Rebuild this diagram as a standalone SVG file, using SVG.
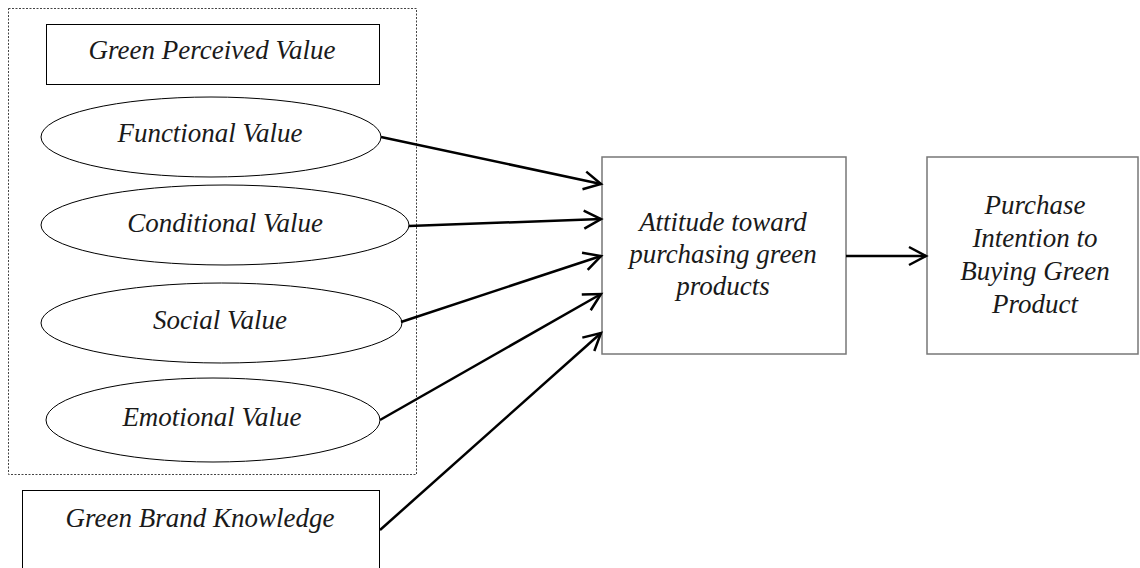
<svg xmlns="http://www.w3.org/2000/svg" width="1140" height="568" viewBox="0 0 1140 568">
  <style>
    text { font-family: "Liberation Serif", "Times New Roman", serif; font-style: italic; font-size: 27px; fill: #1a1a1a; text-anchor: middle; }
    .box { fill: #fff; stroke: #000; stroke-width: 1; }
    .gbox { fill: #fff; stroke: #777; stroke-width: 1.5; }
    .ell { fill: #fff; stroke: #000; stroke-width: 1; }
    .con { fill: none; stroke: #000; stroke-width: 2.5; marker-end: url(#arrow); }
    .group { fill: none; stroke: #444; stroke-width: 1; stroke-dasharray: 2 1.5; }
  </style>
  <defs>
    <marker id="arrow" markerUnits="userSpaceOnUse" markerWidth="24" markerHeight="24" viewBox="-20 -12 24 24" refX="0" refY="0" orient="auto">
      <path d="M-17,-9 L0,0 L-17,9" fill="none" stroke="#000" stroke-width="2.5"/>
    </marker>
  </defs>
  <rect width="1140" height="568" fill="#fff"/>

  <g id="green-perceived-value-group">
    <rect class="group" x="8.5" y="8.5" width="408" height="466"/>
  </g>

  <g id="green-perceived-value">
    <rect class="box" x="46.5" y="24.5" width="333" height="60"/>
    <text x="212" y="59">Green Perceived Value</text>
  </g>

  <g id="functional-value">
    <ellipse class="ell" cx="211" cy="137" rx="170" ry="40"/>
    <text x="210" y="142">Functional Value</text>
  </g>

  <g id="conditional-value">
    <ellipse class="ell" cx="225" cy="225" rx="184" ry="40"/>
    <text x="225" y="232">Conditional Value</text>
  </g>

  <g id="social-value">
    <ellipse class="ell" cx="221.5" cy="323" rx="180.5" ry="40"/>
    <text x="220" y="329">Social Value</text>
  </g>

  <g id="emotional-value">
    <ellipse class="ell" cx="213" cy="420" rx="167" ry="42"/>
    <text x="212" y="426">Emotional Value</text>
  </g>

  <g id="green-brand-knowledge">
    <rect class="box" x="22.5" y="490.5" width="357" height="80"/>
    <text x="200" y="527">Green Brand Knowledge</text>
  </g>

  <g id="attitude">
    <rect class="gbox" x="602" y="157" width="244" height="197"/>
    <text x="723" y="231">Attitude toward</text>
    <text x="723" y="263">purchasing green</text>
    <text x="723" y="295">products</text>
  </g>

  <g id="purchase-intention">
    <rect class="gbox" x="927" y="157" width="211" height="197"/>
    <text x="1035" y="214">Purchase</text>
    <text x="1035" y="247">Intention to</text>
    <text x="1035" y="280">Buying Green</text>
    <text x="1035" y="313">Product</text>
  </g>

  <g id="connectors">
    <line class="con" x1="381" y1="137" x2="601" y2="184"/>
    <line class="con" x1="409" y1="226" x2="601" y2="219"/>
    <line class="con" x1="401" y1="322" x2="601" y2="256"/>
    <line class="con" x1="380" y1="420" x2="601" y2="294"/>
    <line class="con" x1="380" y1="530" x2="601" y2="333"/>
    <line class="con" x1="846" y1="256" x2="926" y2="256"/>
  </g>
</svg>
